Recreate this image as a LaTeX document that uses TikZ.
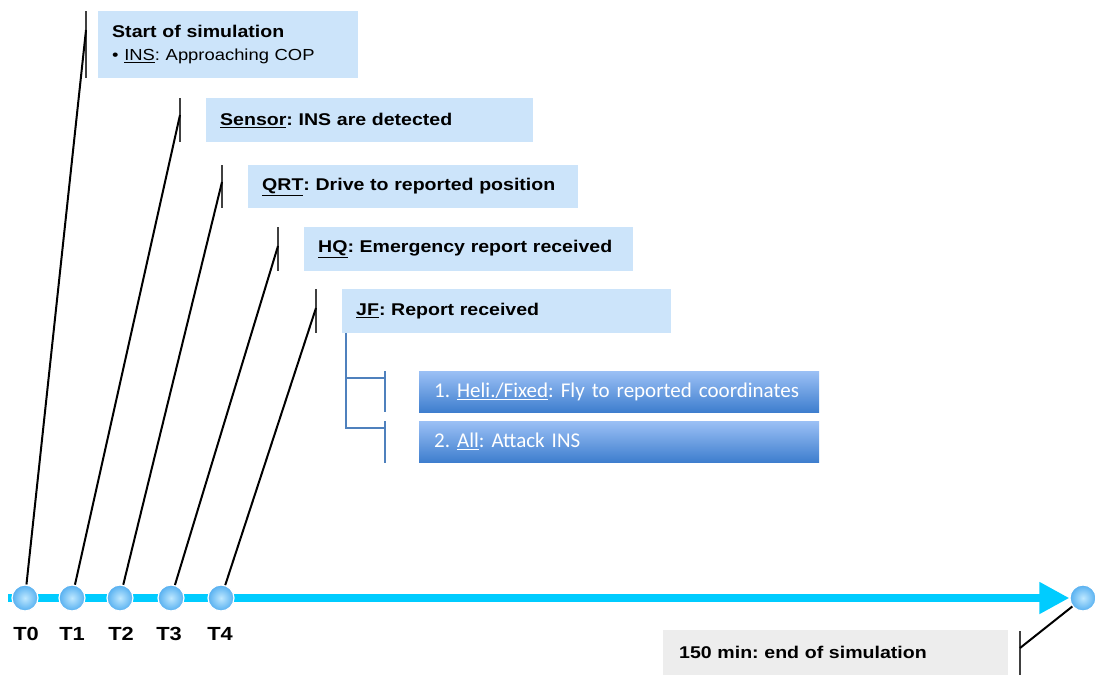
\documentclass[tikz,border=0pt]{standalone}
\usepackage{fontspec}
\setmainfont{Liberation Sans}
\newfontfamily\widefont{Liberation Sans}[FakeStretch=1.15]
\newfontfamily\califont{Carlito}
\usetikzlibrary{arrows.meta,backgrounds}
\definecolor{boxblue}{RGB}{204,228,250}
\definecolor{boxgray}{RGB}{237,237,237}
\definecolor{tlcyan}{RGB}{0,204,255}
\definecolor{brkblue}{RGB}{79,129,189}
\definecolor{gradtop}{RGB}{155,192,245}
\definecolor{gradbot}{RGB}{62,126,206}
\definecolor{ballin}{RGB}{190,232,255}
\definecolor{ballout}{RGB}{85,175,240}
\frenchspacing
\begin{document}
\begin{tikzpicture}[x=1pt,y=-1pt,
  lbox/.style={fill=boxblue, inner xsep=14pt, inner ysep=0pt, anchor=north west,
    font=\widefont\fontsize{17}{23}\selectfont\bfseries\frenchspacing, align=left},
  gbox/.style={lbox, fill=boxgray, inner xsep=16pt},
  dbox/.style={top color=gradtop, bottom color=gradbot, inner xsep=15pt, inner ysep=0pt,
    anchor=north west, text=white, font=\califont\fontsize{21}{24}\selectfont\frenchspacing, align=left},
  tball/.style={circle, minimum size=26pt, inner sep=0pt, inner color=ballin, outer color=ballout,
    draw=white, line width=1.2pt},
  tlab/.style={font=\widefont\fontsize{19}{20}\selectfont\bfseries, inner sep=0pt},
  conn/.style={draw=black, line width=2pt},
  bar/.style={draw=black!75, line width=2.8pt},
  brk/.style={draw=brkblue, line width=2.5pt},
]
\useasboundingbox (0,0) rectangle (1095,675);

% boxes
\node[lbox, minimum width=260pt, minimum height=67pt, text width=232pt] (b1) at (98,11)
  {Start of simulation\\{\fontsize{16}{23}\selectfont\mdseries \textbullet\ \underline{INS}: Approaching COP}};
\node[lbox, minimum width=327pt, minimum height=44pt, text width=299pt] (b2) at (206,98)
  {\underline{Sensor}: INS are detected};
\node[lbox, minimum width=330pt, minimum height=43pt, text width=302pt] (b3) at (248,165)
  {\underline{QRT}: Drive to reported position};
\node[lbox, minimum width=329pt, minimum height=44pt, text width=301pt] (b4) at (304,227)
  {\underline{HQ}: Emergency report received};
\node[lbox, minimum width=329pt, minimum height=44pt, text width=301pt] (b5) at (342,289)
  {\underline{JF}: Report received};
\node[dbox, minimum width=400pt, minimum height=41pt, text width=370pt] (d1) at (419,371)
  {\hyphenpenalty=10000 1. \underline{Heli./Fixed}: Fly to reported coordinates};
\node[dbox, minimum width=400pt, minimum height=41pt, text width=370pt] (d2) at (419,421)
  {2. \underline{All}: Attack INS};
\node[gbox, minimum width=345pt, minimum height=45pt, text width=313pt] (g1) at (663,630)
  {150 min: end of simulation};

% timeline balls
\node[tball] (t0) at (25,598) {};
\node[tball] (t1) at (72,598) {};
\node[tball] (t2) at (120,598) {};
\node[tball] (t3) at (171,598) {};
\node[tball] (t4) at (221,598) {};
\node[tball] (tend) at (1083,598) {};
\coordinate (tlstart) at (8,598);

\begin{scope}[on background layer]
\draw[tlcyan, line width=8pt, -{Triangle[length=30pt,width=30pt]}] (tlstart) -- (tend.west);
\end{scope}

% labels
\node[tlab] (l0) at (26,634) {T0};
\node[tlab] (l1) at (72,634) {T1};
\node[tlab] (l2) at (121,634) {T2};
\node[tlab] (l3) at (169,634) {T3};
\node[tlab] (l4) at (220,634) {T4};

% bars
\coordinate (bt0) at (86,11);  \coordinate (bb0) at (86,78);  \coordinate (p0) at (86,30);
\coordinate (bt1) at (180,98); \coordinate (bb1) at (180,142); \coordinate (p1) at (180,115);
\coordinate (bt2) at (222,165); \coordinate (bb2) at (222,208); \coordinate (p2) at (222,182);
\coordinate (bt3) at (278,227); \coordinate (bb3) at (278,271); \coordinate (p3) at (278,246);
\coordinate (bt4) at (316,289); \coordinate (bb4) at (316,333); \coordinate (p4) at (316,308);
\coordinate (bte) at (1020,631); \coordinate (bbe) at (1020,675); \coordinate (pe) at (1020,648);
\foreach \i in {0,1,2,3,4,e} { \draw[bar] (bt\i) -- (bb\i); }

% connectors
\draw[conn] (t0) -- (p0);
\draw[conn] (t1) -- (p1);
\draw[conn] (t2) -- (p2);
\draw[conn] (t3) -- (p3);
\draw[conn] (t4) -- (p4);
\draw[conn] (tend) -- (pe);

% bracket
\coordinate (k0) at (346,333);
\coordinate (k1) at (346,378);
\coordinate (k2) at (346,428);
\coordinate (k3) at (385,378);
\coordinate (k4) at (385,428);
\draw[brk] (k0) -- (k2) -- (k4);
\draw[brk] (k1) -- (k3);
\coordinate (kb1t) at (385,371); \coordinate (kb1b) at (385,412);
\coordinate (kb2t) at (385,421); \coordinate (kb2b) at (385,463);
\draw[brk] (kb1t) -- (kb1b);
\draw[brk] (kb2t) -- (kb2b);
\end{tikzpicture}
\end{document}
